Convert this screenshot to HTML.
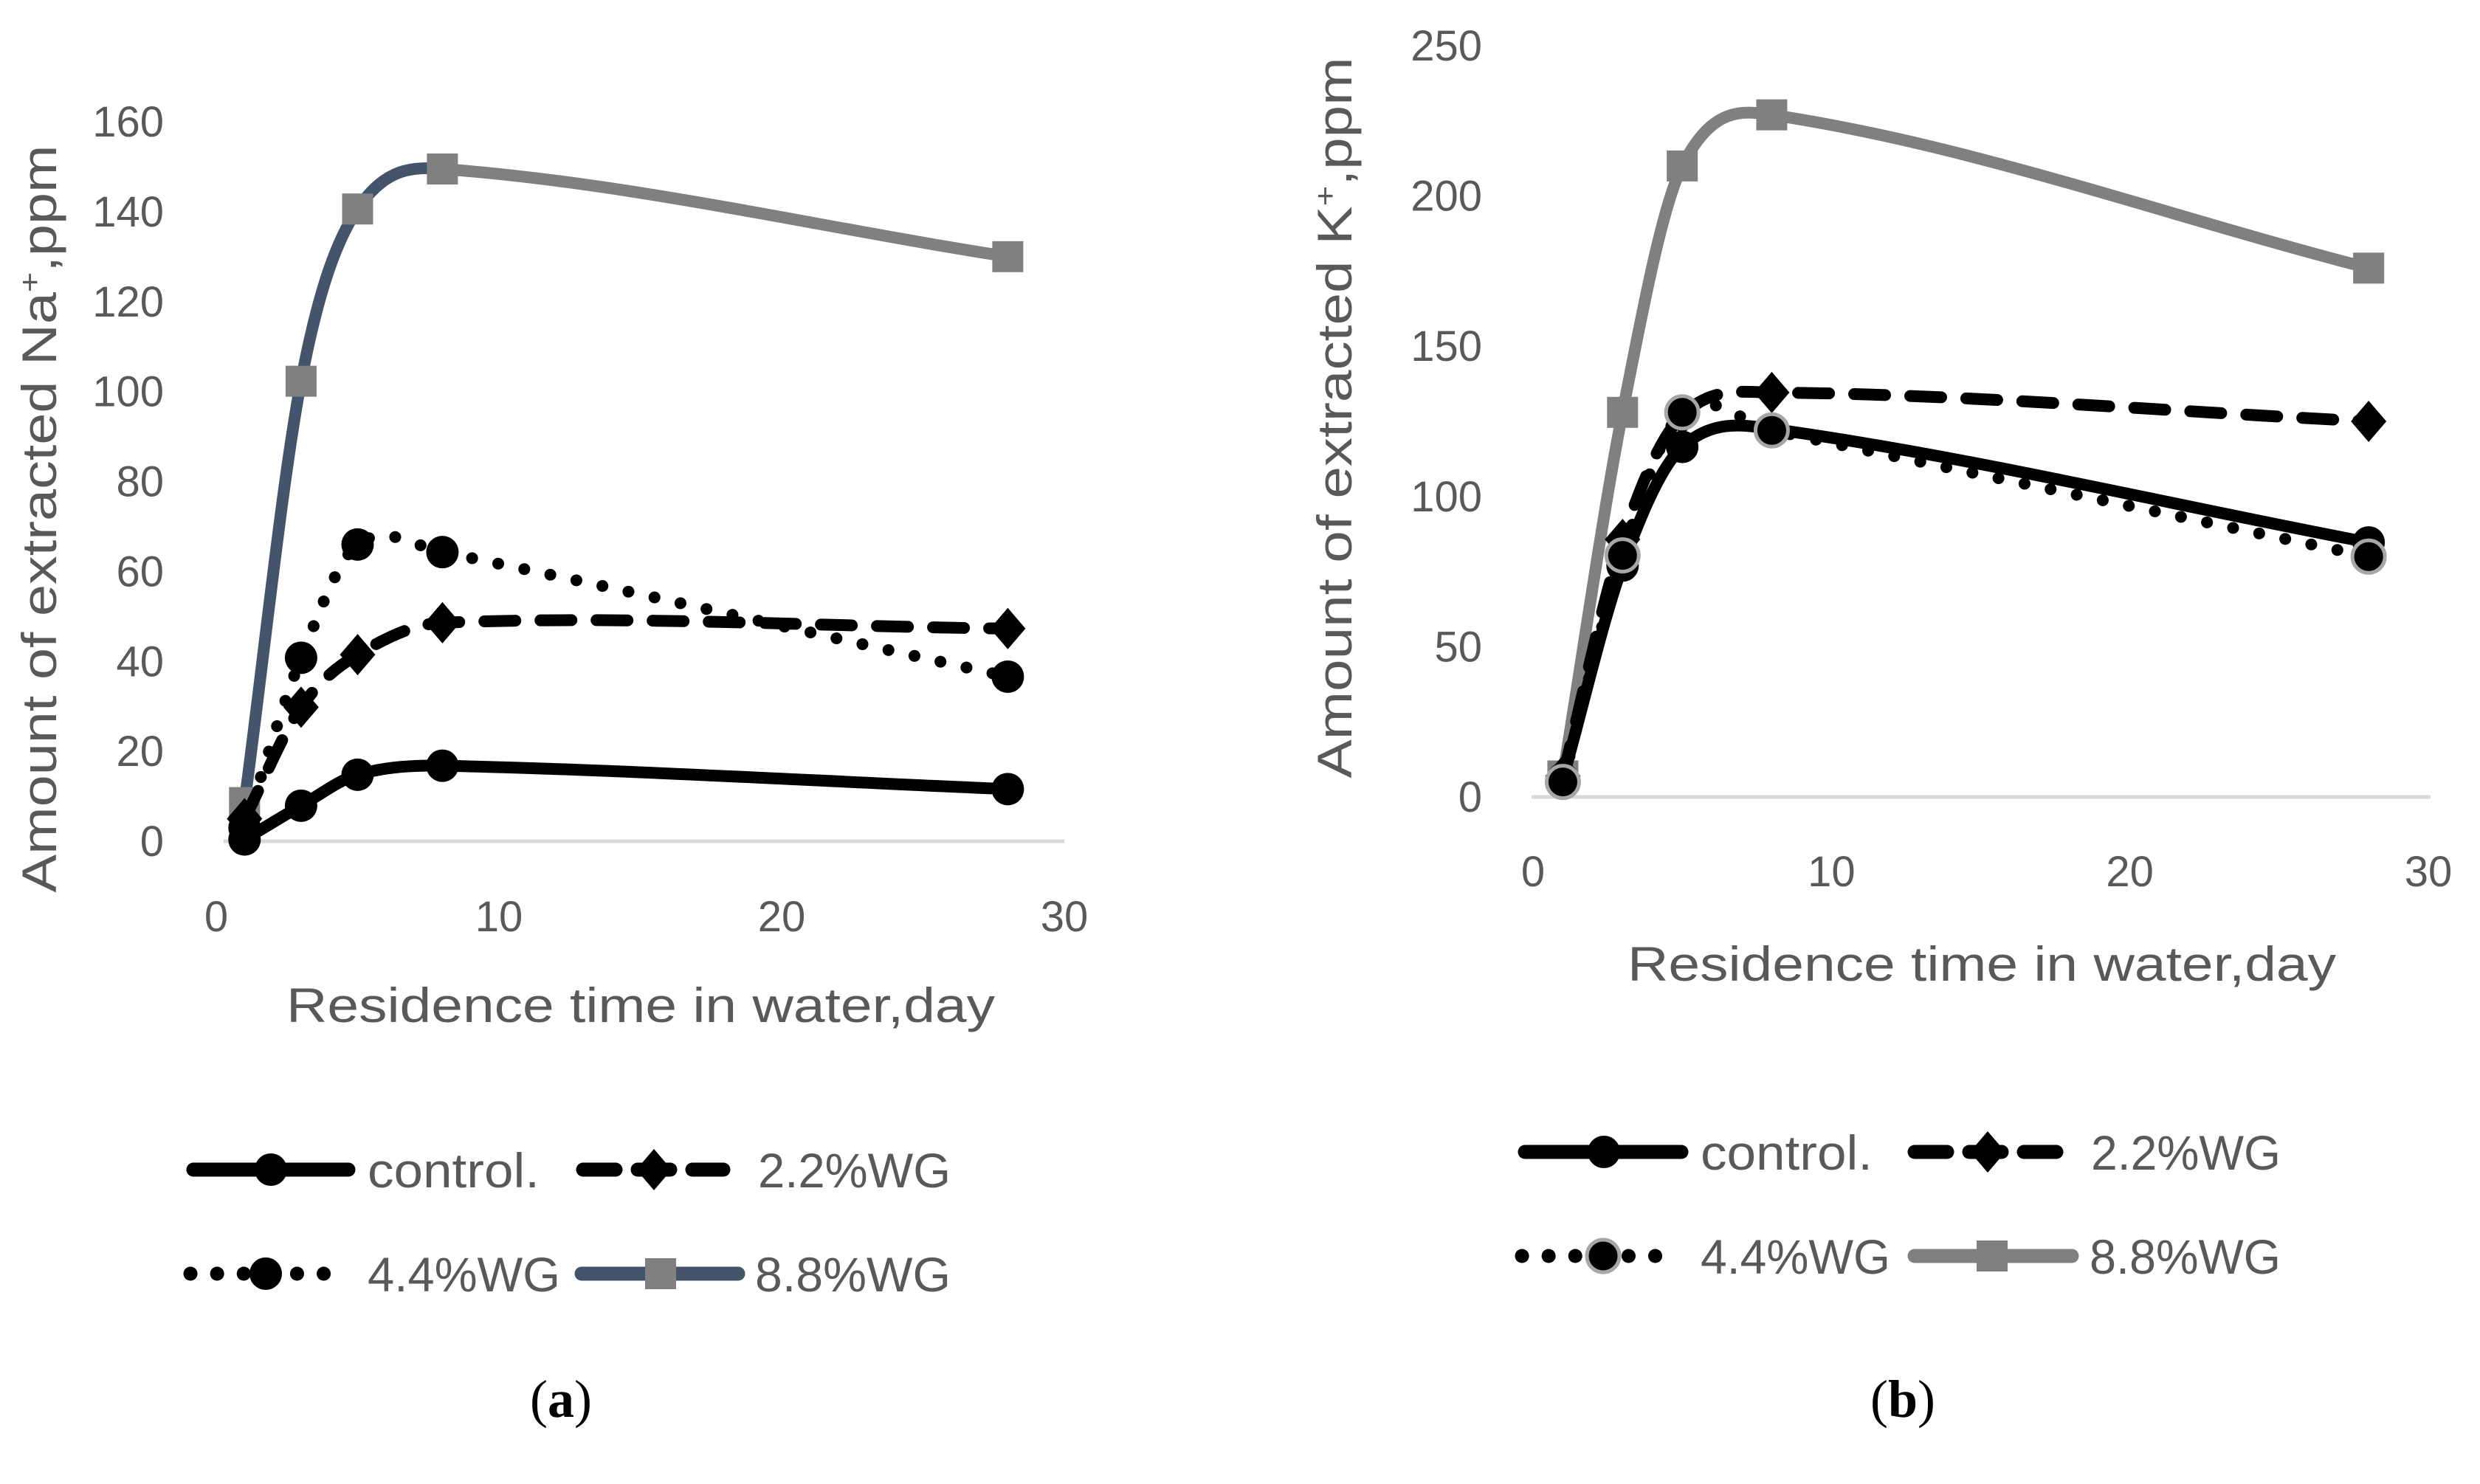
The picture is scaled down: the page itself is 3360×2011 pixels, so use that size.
<!DOCTYPE html>
<html><head><meta charset="utf-8"><style>
html,body{margin:0;padding:0;background:#fff;}
svg{display:block;}
text{font-family:"Liberation Sans",sans-serif;fill:#595959;}
</style></head><body>
<svg id="chart" width="3360" height="2011" viewBox="0 0 3360 2011" xmlns="http://www.w3.org/2000/svg"></svg>
<script>
const days = [1, 3, 5, 8, 28];
const naControl = [0.4, 7.9, 14.8, 16.8, 11.6];
const na22 = [5, 29.8, 41.5, 48.6, 47.3];
const na44 = [3, 40.8, 66, 64.3, 36.6];
const na88 = [8.6, 102.3, 140.6, 149.5, 130];
const kControl = [6, 77, 116.5, 122.5, 84.7];
const k22 = [7, 85.7, 127, 134.6, 125];
const k44 = [5, 80.4, 128, 122, 80];
const k88 = [7, 128, 210, 227, 176];
const naYTicks = [0, 20, 40, 60, 80, 100, 120, 140, 160];
const kYTicks = [0, 50, 100, 150, 200, 250];
const xTicks = [0, 10, 20, 30];
const seriesNames = ["control.", "2.2%WG", "4.4%WG", "8.8%WG"];

const NS = "http://www.w3.org/2000/svg";
const svg = document.getElementById('chart');
function el(tag, attrs, parent) {
  const e = document.createElementNS(NS, tag);
  for (const k in attrs) e.setAttribute(k, attrs[k]);
  (parent || svg).appendChild(e);
  return e;
}
function slopes(pts) {
  const n = pts.length, m = [];
  for (let i = 0; i < n; i++) {
    const a = pts[Math.max(0, i - 1)], b = pts[Math.min(n - 1, i + 1)];
    m.push((b[1] - a[1]) / (b[0] - a[0]));
  }
  return m;
}
function segPath(pts, i, m) {
  const p1 = pts[i], p2 = pts[i + 1], dx = (p2[0] - p1[0]) / 3;
  return ` C${p1[0] + dx},${p1[1] + m[i] * dx} ${p2[0] - dx},${p2[1] - m[i + 1] * dx} ${p2[0]},${p2[1]}`;
}
function smoothPath(pts) {
  const m = slopes(pts);
  let d = `M${pts[0][0]},${pts[0][1]}`;
  for (let i = 0; i < pts.length - 1; i++) d += segPath(pts, i, m);
  return d;
}
function marker(g, type, x, y, fill, stroke) {
  let m;
  if (type === 'circle') m = el('circle', {cx: x, cy: y, r: 22, fill: fill, stroke: stroke || 'none', 'stroke-width': 5}, g);
  else if (type === 'diamond') m = el('polygon', {points: `${x},${y-28} ${x+24},${y} ${x},${y+28} ${x-24},${y}`, fill: fill}, g);
  else m = el('rect', {x: x - 21, y: y - 21, width: 42, height: 42, fill: fill}, g);
  return m;
}

function drawChart(cfg) {
  const g = el('g', {});
  
  
  const X = v => cfg.x0 + v * (cfg.x30 - cfg.x0) / 30;
  const Y = v => cfg.y0 - v * (cfg.y0 - cfg.yTop) / cfg.yMax;
  const ax = el('line', {x1: cfg.axStart, x2: cfg.axEnd, y1: cfg.y0, y2: cfg.y0, stroke: '#d9d9d9', 'stroke-width': 5}, g);
  
  
  cfg.yTicks.forEach(t => {
    const tx = el('text', {x: cfg.yLabelX, y: Y(t) + 20, 'text-anchor': 'end', 'font-size': 58}, g);
    tx.textContent = t;
    
    
  });
  xTicks.forEach(t => {
    const tx = el('text', {x: X(t), y: cfg.xLabelY + 20, 'text-anchor': 'middle', 'font-size': 58}, g);
    tx.textContent = t;
    
    
  });
  const xt = el('text', {x: cfg.xTitleX, y: cfg.xTitleY + 23, 'text-anchor': 'middle', 'font-size': 66, textLength: 960, lengthAdjust: 'spacingAndGlyphs'}, g);
  xt.textContent = 'Residence time in water,day';
  
  
  const yt = el('text', {x: 0, y: 0, 'text-anchor': 'middle', 'font-size': 66, textLength: cfg.yTitleLen, lengthAdjust: 'spacingAndGlyphs', transform: `translate(${cfg.yTitleX + 23},${cfg.yTitleY}) rotate(-90)`}, g);
  yt.innerHTML = cfg.yTitle;
  
  

  const styles = [
    {data: cfg.s[0], dash: null, m: 'circle', col: '#000', mstroke: null},
    {data: cfg.s[1], dash: '42 34', m: 'diamond', col: '#000', mstroke: null},
    {data: cfg.s[2], dash: '0.1 36', m: 'circle', col: '#000', mstroke: cfg.dotStroke},
    {data: cfg.s[3], dash: null, m: 'square', col: '#808080', mstroke: null}
  ];
  const order = [3, 0, 1, 2];
  order.forEach(si => {
    const st = styles[si];
    const pts = days.map((d, i) => [X(d), Y(st.data[i])]);
    const sg = el('g', {}, g);
    
    
    if (si === 3) {
      const m = slopes(pts);
      for (let i = 0; i < pts.length - 1; i++) {
        const c = (i < 3) ? cfg.col88a : '#808080';
        el('path', {d: `M${pts[i][0]},${pts[i][1]}` + segPath(pts, i, m), fill: 'none', stroke: c, 'stroke-width': 16, 'stroke-linecap': 'round'}, sg);
      }
    } else {
      const p = {d: smoothPath(pts), fill: 'none', stroke: '#000', 'stroke-width': 16, 'stroke-linecap': 'round'};
      if (st.dash) p['stroke-dasharray'] = st.dash;
      el('path', p, sg);
    }
    pts.forEach(p => {
      const mk = marker(sg, st.m, p[0], p[1], st.col, st.mstroke);
      
      
    });
  });

  const L = cfg.legend;
  const lg = el('g', {}, g);
  
  
  L.forEach((e, i) => {
    const st = styles[i];
    const eg = el('g', {}, lg);
    
    
    const lc = (i === 3) ? cfg.col88a : '#000';
    const p = {x1: e.x1, x2: e.x2, y1: e.y, y2: e.y, stroke: lc, 'stroke-width': 19, 'stroke-linecap': 'round'};
    if (st.dash) p['stroke-dasharray'] = (i === 1) ? '44 30' : '0.1 36';
    el('line', p, eg);
    marker(eg, st.m, e.mx, e.y, st.col, st.mstroke);
    const t = el('text', {x: e.tx, y: e.y + 24, 'font-size': 66, textLength: e.tw, lengthAdjust: 'spacingAndGlyphs'}, eg);
    t.textContent = seriesNames[i];
  });
  const cap = el('text', {x: cfg.capX, y: 1920, 'text-anchor': 'middle', 'font-size': 72, style: 'font-family:"Liberation Serif",serif;fill:#000'}, g);
  cap.innerHTML = cfg.cap;
  
  
}

drawChart({
  name: 'chart-a-sodium', x0: 293, x30: 1442, y0: 1140, yTop: 165, yMax: 160,
  axStart: 303, axEnd: 1442, yTicks: naYTicks, yLabelX: 222, xLabelY: 1242,
  xTitleX: 868, xTitleY: 1362, yTitleX: 53, yTitleY: 703, yTitleLen: 1013,
  yTitle: 'Amount of extracted Na<tspan baseline-shift="super" font-size="40">+</tspan>,ppm',
  s: [naControl, na22, na44, na88], col88a: '#44546a', dotStroke: null,
  legend: [
    {x1: 262, x2: 472, mx: 367, y: 1585, tx: 498, tw: 233},
    {x1: 790, x2: 980, mx: 886, y: 1585, tx: 1027, tw: 261},
    {x1: 258, x2: 452, mx: 360, y: 1726, tx: 498, tw: 261},
    {x1: 788, x2: 1000, mx: 895, y: 1726, tx: 1023, tw: 265}
  ],
  capX: 760, cap: '(<tspan font-weight="bold">a</tspan>)'
});
drawChart({
  name: 'chart-b-potassium', x0: 2077, x30: 3290, y0: 1080, yTop: 62, yMax: 250,
  axStart: 2075, axEnd: 3293, yTicks: kYTicks, yLabelX: 2008, xLabelY: 1181,
  xTitleX: 2685, xTitleY: 1306, yTitleX: 1808, yTitleY: 566, yTitleLen: 977,
  yTitle: 'Amount of extracted K<tspan baseline-shift="super" font-size="40">+</tspan>,ppm',
  s: [kControl, k22, k44, k88], col88a: '#808080', dotStroke: '#a6a6a6',
  legend: [
    {x1: 2066, x2: 2278, mx: 2173, y: 1561, tx: 2304, tw: 233},
    {x1: 2594, x2: 2786, mx: 2693, y: 1561, tx: 2833, tw: 257},
    {x1: 2062, x2: 2262, mx: 2172, y: 1702, tx: 2304, tw: 257},
    {x1: 2594, x2: 2807, mx: 2699, y: 1702, tx: 2831, tw: 259}
  ],
  capX: 2578, cap: '(<tspan font-weight="bold">b</tspan>)'
});
</script>
</body></html>
